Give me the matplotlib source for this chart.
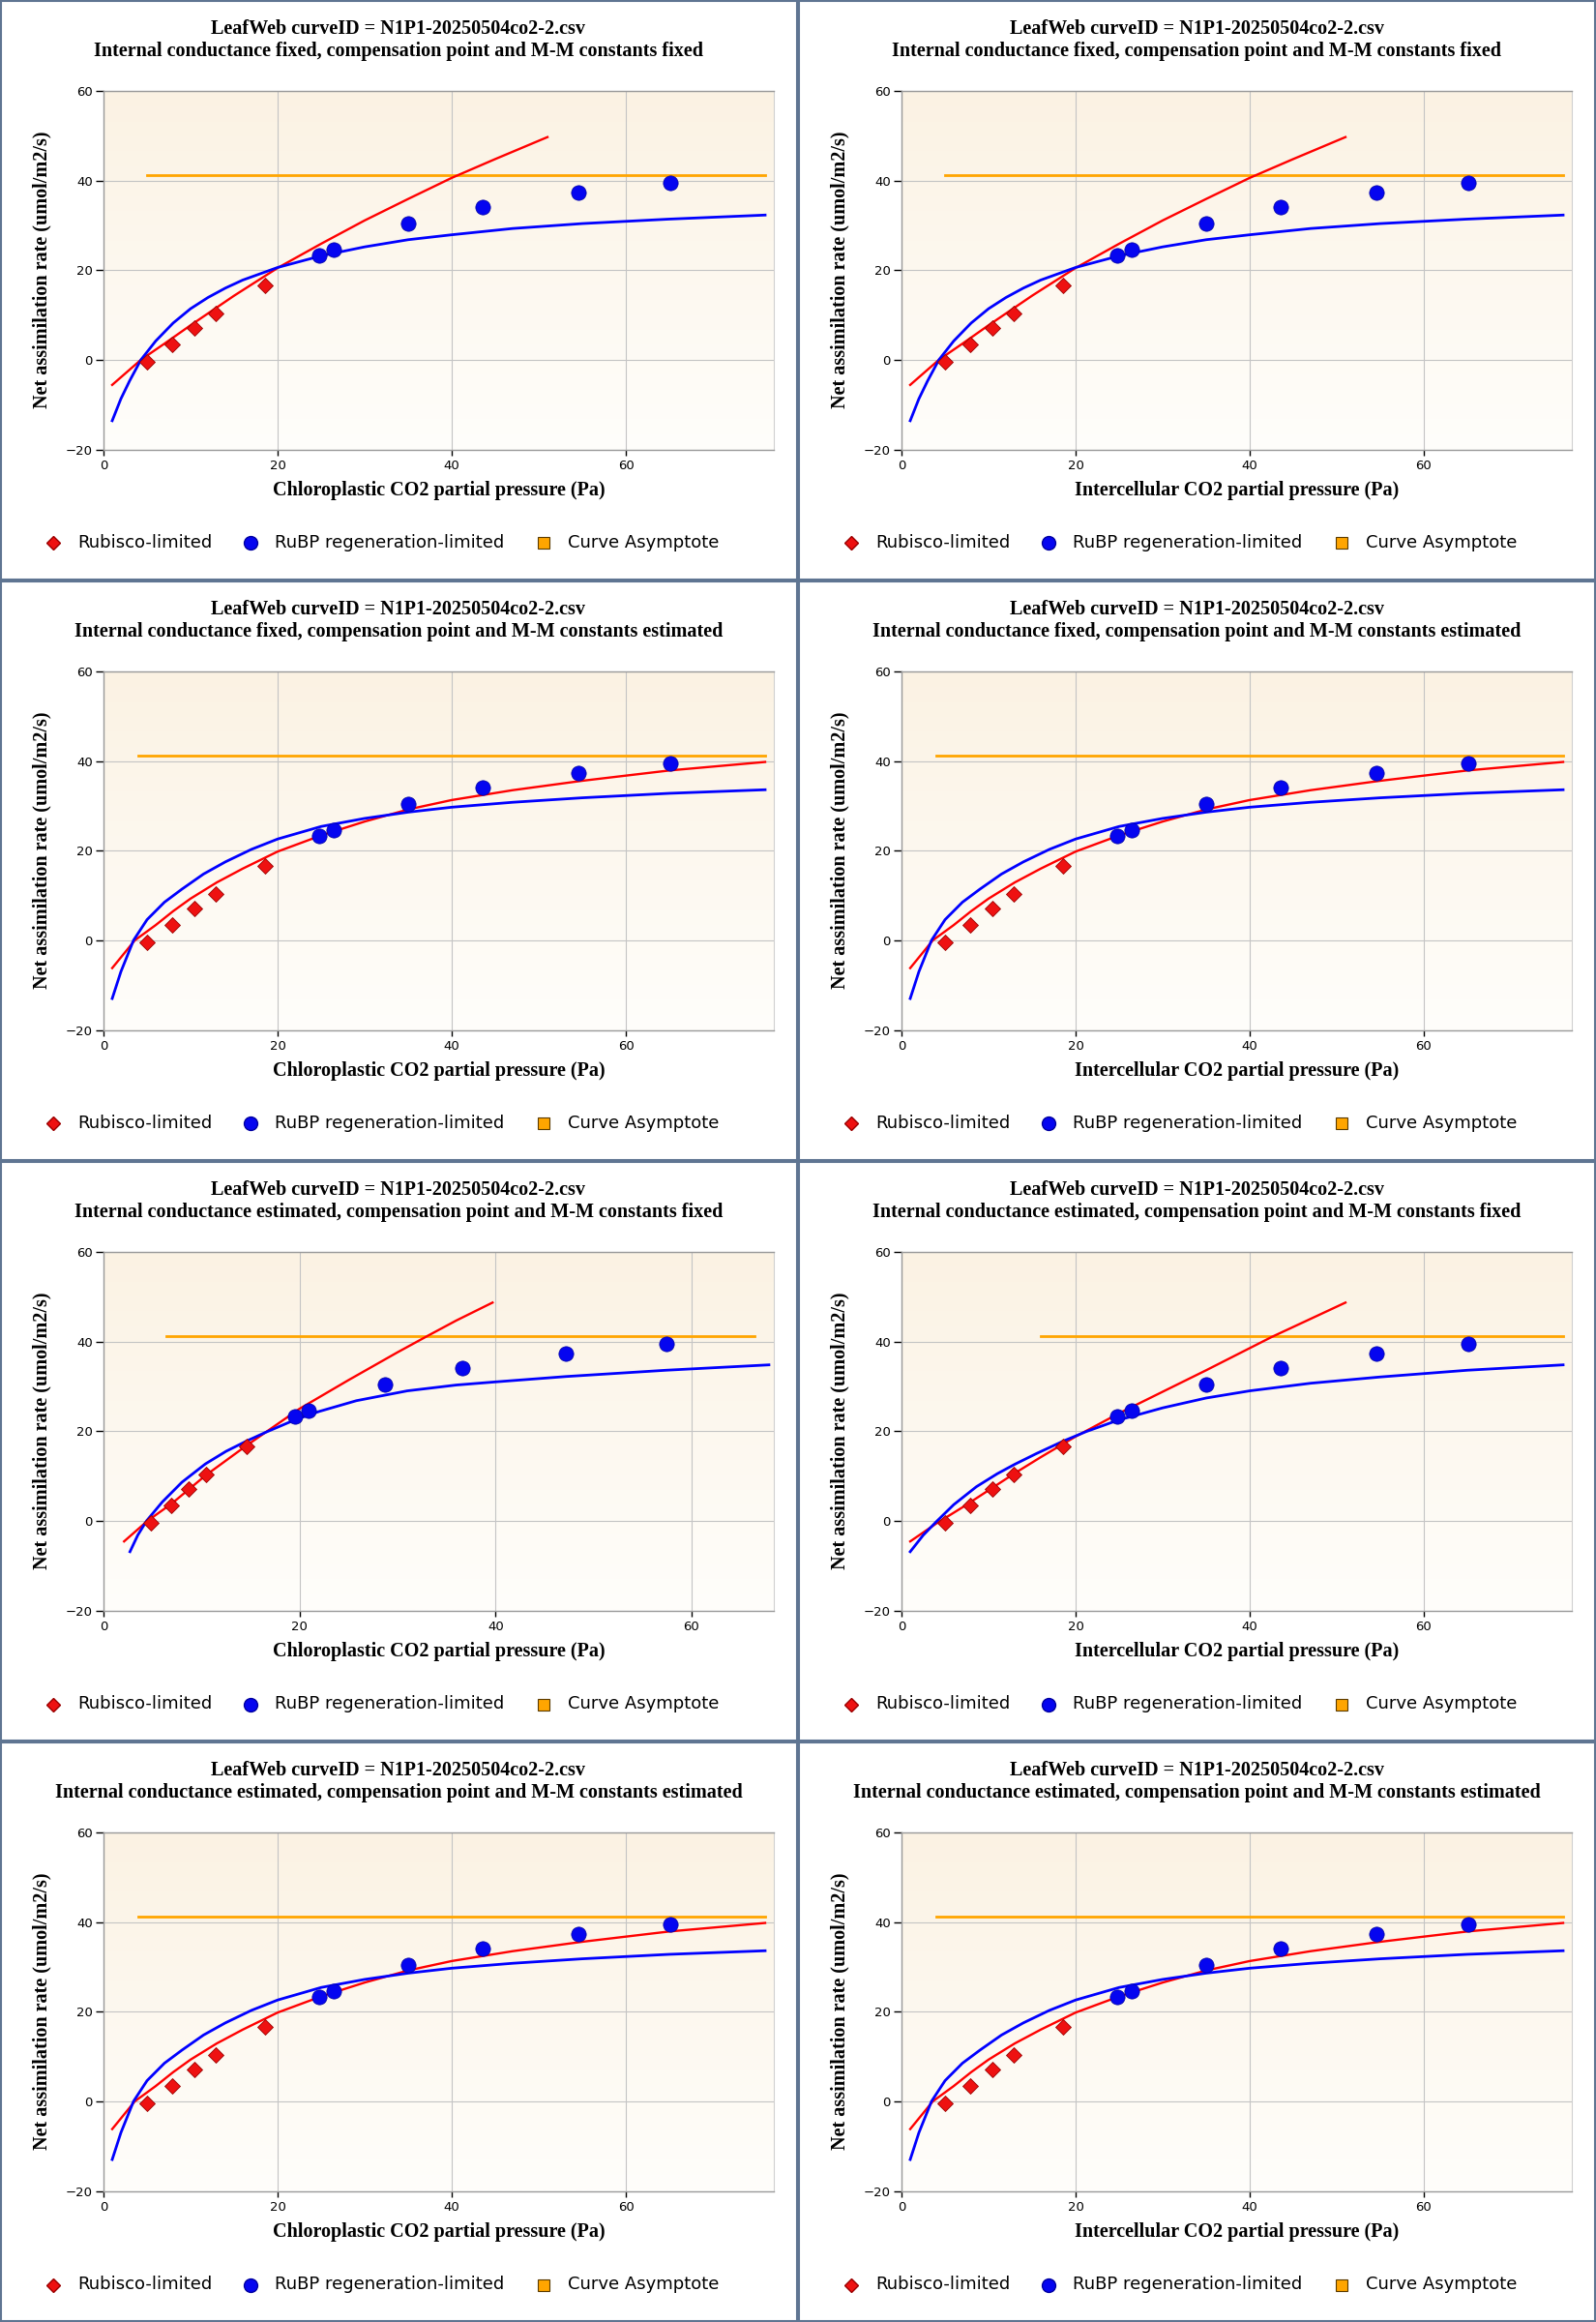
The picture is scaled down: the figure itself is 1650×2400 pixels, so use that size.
import numpy as np
import matplotlib
matplotlib.use("Agg")
import matplotlib.pyplot as plt
from matplotlib.lines import Line2D
from matplotlib.patches import Rectangle

plt.rcParams['font.family'] = ['DejaVu Sans']

W, H = 1650, 2400

# measured points (same for Ci panels and gm-fixed Cc panels)
ci_rub = [4.97, 7.9, 10.4, 12.9, 18.6]
a_rub = [-0.5, 3.4, 7.1, 10.4, 16.7]
ci_rubp = [24.8, 26.4, 35.0, 43.5, 54.6, 65.1]
a_rubp = [23.2, 24.5, 30.5, 34.0, 37.3, 39.4]
# chloroplastic pressures when internal conductance is estimated
cc_rub_est = [4.83, 6.86, 8.68, 10.44, 14.6]
cc_rubp_est = [19.5, 20.9, 28.7, 36.6, 47.2, 57.4]

asym_value = 41.3

# fitted curves
# A: gm fixed, Gamma/Km fixed
red_x_a = [1, 4.3, 7, 10, 15, 20, 25, 30, 35, 40, 45, 51]
red_y_a = [-5.6, 0, 3.6, 7.7, 14.3, 20.5, 25.9, 31.1, 35.9, 40.6, 44.8, 49.7]
blue_x_a = [1, 2, 3, 4.3, 6, 8, 10, 12, 14, 16, 20, 25, 30, 35, 40, 47, 55, 65, 76]
blue_y_a = [-13.6, -8.7, -4.7, 0, 4.2, 8.2, 11.4, 13.9, 16.0, 17.8, 20.6, 23.2, 25.2,
            26.8, 27.9, 29.3, 30.4, 31.4, 32.3]
# B: gm fixed, Gamma/Km estimated
red_x_b = [1, 3.6, 6, 8, 10, 13, 16, 20, 25, 30, 35, 40, 47, 55, 65, 76]
red_y_b = [-6.2, 0, 3.4, 6.5, 9.3, 12.9, 16.0, 19.8, 23.4, 26.5, 29.2, 31.3, 33.5,
           35.6, 37.9, 39.8]
blue_x_b = [1, 2, 3.45, 5, 7, 9, 11.5, 14, 17, 20, 25, 30, 35, 40, 47, 55, 65, 76]
blue_y_b = [-13.0, -7.0, 0, 4.6, 8.5, 11.4, 14.8, 17.5, 20.3, 22.6, 25.4, 27.2, 28.6,
            29.7, 30.8, 31.8, 32.8, 33.6]
# C: gm estimated, Gamma/Km fixed, chloroplastic axis
red_x_c = [2.1, 4.5, 7, 10.4, 14.6, 20, 25, 30, 33.1, 36, 39.7]
red_y_c = [-4.6, 0, 3.9, 10.1, 16.8, 25.0, 31.4, 37.6, 41.3, 44.7, 48.7]
blue_x_c = [2.7, 3.5, 4.4, 6, 8, 10.4, 12.5, 14.6, 16.5, 19.5, 22, 25.8, 31, 36, 40,
            47.2, 57.4, 67.9]
blue_y_c = [-6.9, -3.2, 0, 4.2, 8.6, 12.7, 15.5, 17.8, 19.7, 22.5, 24.4, 26.8, 29.0,
            30.3, 31.0, 32.2, 33.6, 34.8]
# D: gm estimated, Gamma/Km fixed, intercellular axis
red_x_d = [1, 4, 7, 10, 13, 16, 20, 25, 30, 35, 42.5, 51]
red_y_d = [-4.6, -0.6, 3.0, 6.8, 10.6, 14.2, 18.8, 24.0, 28.8, 33.6, 41.0, 48.7]
blue_x_d = [1, 2.5, 4, 6, 8.6, 11, 13, 15.5, 18.6, 21.2, 24.8, 30, 35, 40, 47, 55, 65, 76]
blue_y_d = [-6.9, -3.2, -0.2, 3.6, 7.6, 10.5, 12.6, 15.0, 17.8, 19.9, 22.4, 25.2, 27.4,
            29.0, 30.7, 32.1, 33.6, 34.8]

title1 = "LeafWeb curveID = N1P1-20250504co2-2.csv"
subtitles = [
    "Internal conductance fixed, compensation point and M-M constants fixed",
    "Internal conductance fixed, compensation point and M-M constants estimated",
    "Internal conductance estimated, compensation point and M-M constants fixed",
    "Internal conductance estimated, compensation point and M-M constants estimated",
]
xlabels = ["Chloroplastic CO2 partial pressure (Pa)", "Intercellular CO2 partial pressure (Pa)"]
ylabel = "Net assimilation rate (umol/m2/s)"
legend_labels = ["Rubisco-limited", "RuBP regeneration-limited", "Curve Asymptote"]

curves = {
    "A": dict(rx=red_x_a, ry=red_y_a, bx=blue_x_a, by=blue_y_a, px_rub=ci_rub, px_rubp=ci_rubp,
              asym=(5.0, 76.0), xmax=77.0),
    "B": dict(rx=red_x_b, ry=red_y_b, bx=blue_x_b, by=blue_y_b, px_rub=ci_rub, px_rubp=ci_rubp,
              asym=(4.0, 76.0), xmax=77.0),
    "C": dict(rx=red_x_c, ry=red_y_c, bx=blue_x_c, by=blue_y_c, px_rub=cc_rub_est,
              px_rubp=cc_rubp_est, asym=(6.4, 66.4), xmax=68.4),
    "D": dict(rx=red_x_d, ry=red_y_d, bx=blue_x_d, by=blue_y_d, px_rub=ci_rub, px_rubp=ci_rubp,
              asym=(16.0, 76.0), xmax=77.0),
}
layout = [["A", "A"], ["B", "B"], ["C", "D"], ["B", "B"]]

fig = plt.figure(figsize=(W / 100, H / 100), dpi=100)
fig.patch.set_facecolor("white")


def fx(x):
    return x / W


def fy(y):
    return 1 - y / H


border = "#5f7592"
grad = np.linspace(0, 1, 256).reshape(-1, 1)
top_c = np.array([251, 242, 227]) / 255
bot_c = np.array([255, 254, 251]) / 255
grad_img = top_c[None, None, :] * (1 - grad[..., None]) + bot_c[None, None, :] * grad[..., None]

serif = ["Liberation Serif", "DejaVu Serif"]
tsize = 14.5

for r in range(4):
    for c in range(2):
        key = layout[r][c]
        cfg = curves[key]
        x0, y0 = c * 825, r * 600

        fig.add_artist(Rectangle((fx(x0 + 1), fy(y0 + 599)), 823 / W, 598 / H,
                                 transform=fig.transFigure, fill=False,
                                 edgecolor=border, linewidth=1.5, zorder=10))

        ax = fig.add_axes([fx(x0 + 107), fy(y0 + 464.5), 693 / W, 370.5 / H])
        ax.imshow(grad_img, extent=[0, 1, 0, 1], transform=ax.transAxes,
                  aspect="auto", zorder=0)
        ax.set_xlim(0, cfg["xmax"])
        ax.set_ylim(-20, 60)
        ax.set_xticks([0, 20, 40, 60])
        ax.set_yticks([-20, 0, 20, 40, 60])
        ax.grid(True, color="#c4c4c4", linewidth=0.8, zorder=1)
        ax.set_axisbelow(True)
        for s in ["left", "top", "bottom"]:
            ax.spines[s].set_color("#9a9a9a")
            ax.spines[s].set_linewidth(1.0)
        ax.spines["right"].set_color("#d0d0d0")
        ax.tick_params(axis="y", length=6, width=1, color="black", labelsize=9.5, pad=2)
        ax.tick_params(axis="x", length=4.5, width=1, color="black", labelsize=9.5, pad=3)

        ax.plot(cfg["asym"], [asym_value, asym_value], color="#ffa500", lw=2.0, zorder=3)
        ax.plot(cfg["rx"], cfg["ry"], color="#ff0000", lw=1.7, zorder=4)
        ax.plot(cfg["bx"], cfg["by"], color="#0000ff", lw=2.0, zorder=4)
        ax.plot(cfg["px_rub"], a_rub, linestyle="none", marker="D", markersize=8.5,
                markerfacecolor="#ee1111", markeredgecolor="#9a0000", markeredgewidth=0.6,
                zorder=5, clip_on=False)
        ax.plot(cfg["px_rubp"], a_rubp, linestyle="none", marker="o", markersize=11,
                markerfacecolor="#0505f0", markeredgecolor="#0000a0", markeredgewidth=0.5,
                zorder=5, clip_on=False)

        fig.text(fx(x0 + 412), fy(y0 + 30), title1, ha="center", va="center",
                 family=serif, weight="bold", fontsize=tsize)
        fig.text(fx(x0 + 412), fy(y0 + 53), subtitles[r], ha="center", va="center",
                 family=serif, weight="bold", fontsize=tsize)
        fig.text(fx(x0 + 453.5), fy(y0 + 507), xlabels[c], ha="center", va="center",
                 family=serif, weight="bold", fontsize=tsize)
        fig.text(fx(x0 + 43), fy(y0 + 279), ylabel, ha="center", va="center",
                 rotation=90, family=serif, weight="bold", fontsize=tsize)

        # legend row
        ly = fy(y0 + 561.5)
        fig.add_artist(Line2D([fx(x0 + 55)], [ly], transform=fig.transFigure, marker="D",
                              markersize=7.5, markerfacecolor="#ee1111",
                              markeredgecolor="#9a0000", linestyle="none"))
        fig.add_artist(Line2D([fx(x0 + 259)], [ly], transform=fig.transFigure, marker="o",
                              markersize=10, markerfacecolor="#0505f0",
                              markeredgecolor="#0000a0", linestyle="none"))
        fig.add_artist(Line2D([fx(x0 + 562)], [ly], transform=fig.transFigure, marker="s",
                              markersize=9, markerfacecolor="#ffa500",
                              markeredgecolor="#5a3a00", markeredgewidth=0.8,
                              linestyle="none"))
        for lx, lab in zip([80, 284, 587], legend_labels):
            fig.text(fx(x0 + lx), ly, lab, ha="left", va="center", fontsize=13)

fig.savefig("out.png", dpi=100, facecolor="white")
